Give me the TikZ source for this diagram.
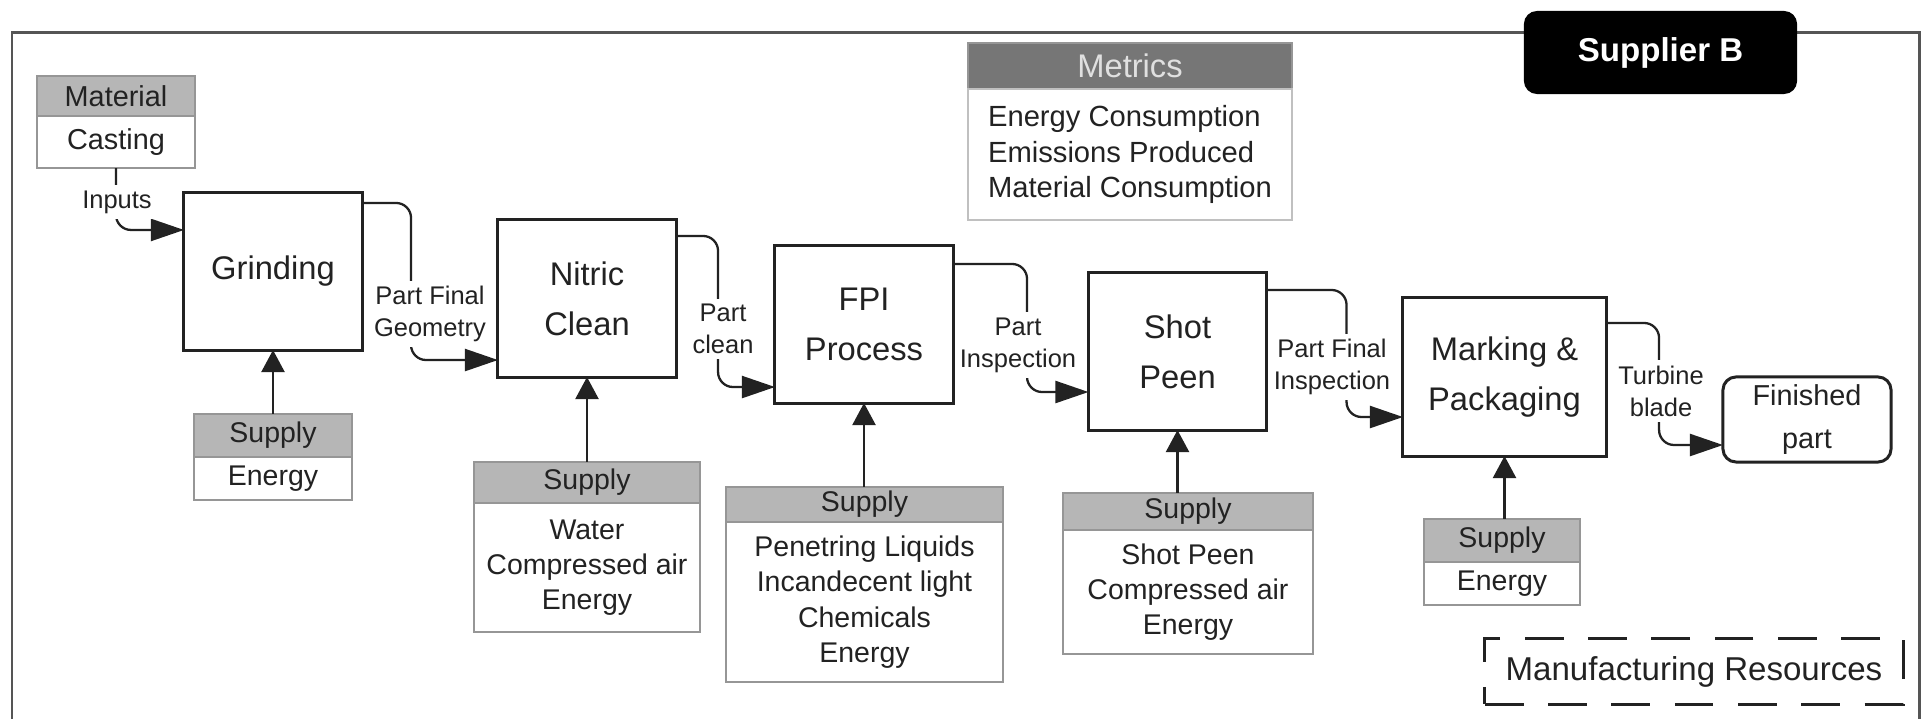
\documentclass[tikz,border=0pt]{standalone}
\usepackage{fontspec}
\setmainfont{Liberation Sans}
\usepackage{xcolor}
\usepackage{tikz}
\usetikzlibrary{arrows.meta, positioning}
\definecolor{framegray}{RGB}{85,85,85}
\definecolor{boxline}{RGB}{34,34,34}
\definecolor{supgray}{RGB}{182,182,182}
\definecolor{supline}{RGB}{150,150,150}
\definecolor{metricgray}{RGB}{118,118,118}

\begin{document}
\begin{tikzpicture}[x=0.01cm, y=-0.01cm,
  every node/.style={outer sep=0pt, text=boxline},
  proc/.style={draw=boxline, line width=0.85pt, fill=white, inner sep=1pt, minimum width=1.78cm, minimum height=1.57cm, align=center, font=\fontsize{9.3}{14.2}\selectfont},
  suphead/.style={draw=supline, line width=0.6pt, fill=supgray, inner sep=0pt, anchor=north, font=\fontsize{8.1}{10}\selectfont},
  supbody/.style={draw=supline, line width=0.6pt, fill=white, inner sep=0pt, align=center, font=\fontsize{8.1}{10}\selectfont},
  flowlbl/.style={fill=white, align=center, inner xsep=0.5pt, inner ysep=1.5pt, font=\fontsize{7.25}{9.1}\selectfont},
  flow/.style={draw=boxline, line width=0.65pt, rounded corners=0.15cm, -{Triangle[length=3.3mm, width=2.2mm]}},
  feed/.style={draw=boxline, line width=0.65pt, -{Triangle[length=2.2mm, width=2.3mm]}}]
\useasboundingbox (0,0) rectangle (1921,719);
\draw[framegray, line width=0.85pt] (12,719) -- (12,33) -- (1919,33) -- (1919,719);
\node[fill=black, rounded corners=0.13cm, minimum width=2.73cm, minimum height=0.83cm, text=white, font=\bfseries\fontsize{9.4}{11}\selectfont] (supB) at (1660.5,52.5) {Supplier B};
\node[fill=metricgray, draw=supline, line width=0.6pt, inner sep=0pt, anchor=north, minimum width=3.24cm, minimum height=0.46cm, text=white!88!black, font=\fontsize{9.3}{11}\selectfont] (met-h) at (1130,43) {Metrics};
\node[draw=supline!60, line width=0.6pt, fill=white, inner sep=0pt, minimum width=3.24cm, minimum height=1.31cm, below=0pt of met-h, align=left, font=\fontsize{8.3}{10.1}\selectfont] (met) {Energy Consumption\\Emissions Produced\\Material Consumption};
\node[suphead, minimum width=1.58cm, minimum height=0.40cm, font=\fontsize{8.2}{10}\selectfont] (mat-h) at (116,76) {Material};
\node[supbody, minimum width=1.58cm, minimum height=0.52cm, below=0pt of mat-h, font=\fontsize{8.2}{10}\selectfont] (mat) {Casting};
\node[proc] (grind) at (273,271.5) {Grinding};
\node[proc] (nitric) at (587,298.5) {Nitric\\Clean};
\node[proc] (fpi) at (864,324.5) {FPI\\Process};
\node[proc] (shot) at (1177.5,351.5) {Shot\\Peen};
\node[proc, minimum width=2.03cm, minimum height=1.58cm] (mark) at (1504.5,377) {Marking \&\\Packaging};
\node[proc, rounded corners=0.13cm, minimum width=1.68cm, minimum height=0.85cm, font=\fontsize{8.2}{12.2}\selectfont] (done) at (1807,419.5) {Finished\\part};
\node[suphead, minimum width=1.58cm, minimum height=0.43cm] (sg-h) at (273,414) {Supply};
\node[supbody, minimum width=1.58cm, minimum height=0.43cm, below=0pt of sg-h] (sg) {Energy};
\node[suphead, minimum width=2.26cm, minimum height=0.41cm] (sn-h) at (587,462) {Supply};
\node[supbody, minimum width=2.26cm, minimum height=1.29cm, below=0pt of sn-h] (sn) {Water\\Compressed air\\Energy};
\node[suphead, minimum width=2.77cm, minimum height=0.35cm] (sf-h) at (864.5,487) {Supply};
\node[supbody, minimum width=2.77cm, minimum height=1.60cm, below=0pt of sf-h] (sf) {Penetring Liquids\\Incandecent light\\Chemicals\\Energy};
\node[suphead, minimum width=2.50cm, minimum height=0.37cm] (ss-h) at (1188,493) {Supply};
\node[supbody, minimum width=2.50cm, minimum height=1.24cm, below=0pt of ss-h] (ss) {Shot Peen\\Compressed air\\Energy};
\node[suphead, minimum width=1.56cm, minimum height=0.43cm] (sm-h) at (1502,519) {Supply};
\node[supbody, minimum width=1.56cm, minimum height=0.43cm, below=0pt of sm-h] (sm) {Energy};
\node[draw=boxline, line width=0.85pt, dash pattern=on 11pt off 7pt, minimum width=4.18cm, minimum height=0.65cm, font=\fontsize{9.4}{11}\selectfont] (res) at (1694,671.5) {Manufacturing Resources};
\draw[flow] (mat.south) |- ([yshift=0.415cm]grind.west);
\draw[flow] ([yshift=0.685cm]grind.east) -- ++(49,0) |- ([yshift=-0.615cm]nitric.west);
\draw[flow] ([yshift=0.625cm]nitric.east) -- ++(42,0) |- ([yshift=-0.625cm]fpi.west);
\draw[flow] ([yshift=0.605cm]fpi.east) -- ++(74,0) |- ([yshift=-0.405cm]shot.west);
\draw[flow] ([yshift=0.615cm]shot.east) -- ++(80,0) |- ([yshift=-0.40cm]mark.west);
\draw[flow] ([yshift=0.54cm]mark.east) -- ++(53,0) |- ([yshift=-0.255cm]done.west);
\draw[feed] (grind.south |- sg-h.north) -- (grind.south);
\draw[feed] (nitric.south |- sn-h.north) -- (nitric.south);
\draw[feed] (fpi.south |- sf-h.north) -- (fpi.south);
\draw[feed] (shot.south |- ss-h.north) -- (shot.south);
\draw[feed] (mark.south |- sm-h.north) -- (mark.south);
\node[flowlbl] (l-in) at (117,202) {Inputs};
\node[flowlbl] (l-geo) at (430,314) {Part Final\\Geometry};
\node[flowlbl] (l-cln) at (723,329) {Part\\clean};
\node[flowlbl] (l-insp) at (1018,345) {Part\\Inspection};
\node[flowlbl] (l-fin) at (1332,367) {Part Final\\Inspection};
\node[flowlbl] (l-tb) at (1661,391) {Turbine\\blade};
\end{tikzpicture}
\end{document}
